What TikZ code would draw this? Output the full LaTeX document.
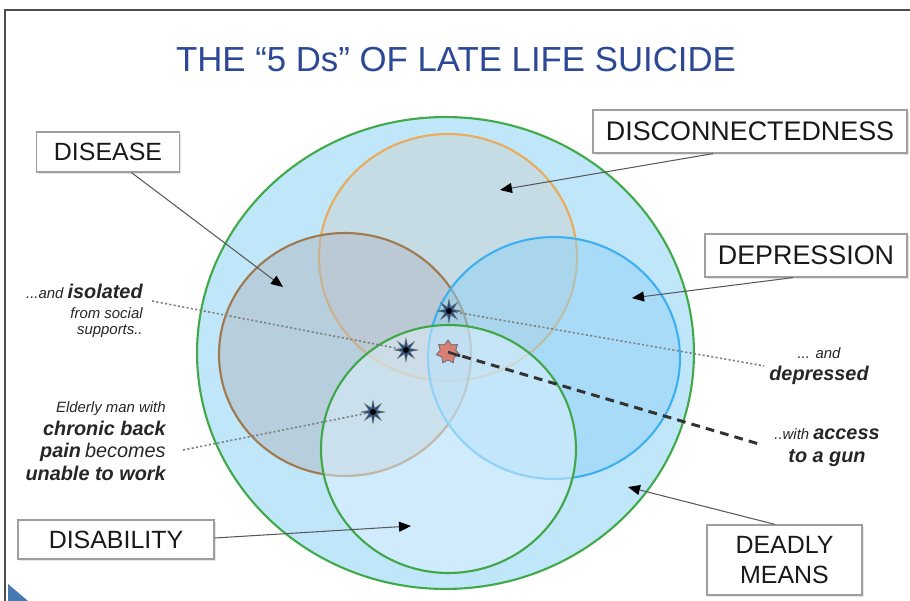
\documentclass[tikz,border=0pt]{standalone}
\usepackage{fontspec}
\setmainfont{Liberation Sans}
\usetikzlibrary{shapes.geometric, arrows.meta, calc, shadows}
\definecolor{title-blue}{RGB}{44,72,150}
\definecolor{outer-fill}{RGB}{192,230,250}
\definecolor{outer-line}{RGB}{64,170,72}
\definecolor{discon-fill}{RGB}{202,212,210}
\definecolor{discon-line}{RGB}{232,172,92}
\definecolor{disease-fill}{RGB}{176,184,194}
\definecolor{disease-line}{RGB}{160,122,78}
\definecolor{dep-fill}{RGB}{144,210,246}
\definecolor{dep-line}{RGB}{62,176,240}
\definecolor{disab-fill}{RGB}{224,242,254}
\definecolor{disab-line}{RGB}{64,166,72}
\definecolor{burst-blue}{RGB}{38,78,128}
\definecolor{gun-red}{RGB}{216,128,118}
\definecolor{corner-blue}{RGB}{70,120,180}
\newcommand{\keyword}[1]{{\fontsize{11.3}{13}\selectfont\bfseries #1}}
\newcommand{\bigword}[1]{{\fontsize{11.3}{13}\selectfont #1}}

\begin{document}
\begin{tikzpicture}[
    x=0.02cm, y=-0.02cm,
    dbox/.style={rectangle, draw=gray!75, line width=0.7pt, fill=white, inner sep=0pt, align=center, text=black!90,
        font=\fontsize{14.2}{17}\selectfont, drop shadow={opacity=0.2, shadow xshift=0.04cm, shadow yshift=-0.04cm}},
    note/.style={inner sep=0pt, text=black!85, font=\fontsize{8.5}{#1}\selectfont\itshape},
    note/.default=13,
    pointer/.style={-{Triangle[length=0.24cm, width=0.2cm, color=black]}, draw=black!65, line width=0.6pt},
    burst/.style={star, star points=8, star point ratio=2.8, minimum size=0.46cm, inner sep=0pt, fill=burst-blue, draw=black!60, line width=0.3pt},
    link/.style={draw=gray, line width=0.9pt, dash pattern=on 1.2pt off 1.3pt},
    ring/.style={line width=1.2pt, fill opacity=0.5}
]
\useasboundingbox (0,0) rectangle (910,601);

% slide frame
\draw[black!70, line width=1.2pt] (5,601) -- (5,10) -- (910,10);
\fill[corner-blue] (8,584) -- (28,601) -- (8,601) -- cycle;

\node[font=\fontsize{19.8}{24}\selectfont, text=title-blue] (title) at (456,60) {THE “5 Ds” OF LATE LIFE SUICIDE};

% the five Ds
\draw[outer-line, line width=1.2pt, fill=outer-fill] (445.5,353) ellipse [x radius=4.97cm, y radius=4.72cm];
\draw[ring, discon-line, fill=discon-fill] (448,257.5) ellipse [x radius=2.58cm, y radius=2.47cm];
\draw[ring, disease-line, fill=disease-fill] (345,354.5) ellipse [x radius=2.52cm, y radius=2.43cm];
\draw[ring, dep-line, fill=dep-fill] (554,358) ellipse [x radius=2.52cm, y radius=2.42cm];
\draw[ring, disab-line, fill=disab-fill] (448.5,449) ellipse [x radius=2.55cm, y radius=2.48cm];

% labels
\node[dbox, minimum width=2.86cm, minimum height=0.8cm] (disease) at (108,152) {DISEASE};
\node[dbox, minimum width=6.28cm, minimum height=0.86cm, font=\fontsize{15.3}{17}\selectfont] (discon) at (750,131.5) {DISCONNECTEDNESS};
\node[dbox, minimum width=4.04cm, minimum height=0.86cm, font=\fontsize{15.3}{17}\selectfont] (depression) at (806,255.5) {DEPRESSION};
\node[dbox, minimum width=3.92cm, minimum height=0.78cm] (disability) at (116,539.5) {DISABILITY};
\node[dbox, minimum width=3.1cm, minimum height=1.4cm] (means) at (784.5,560) {DEADLY\\MEANS};

\coordinate (diseaseArea) at (283,287);
\coordinate (disconArea) at (500,190);
\coordinate (depArea) at (632,298);
\coordinate (disabArea) at (411,526);
\coordinate (meansArea) at (628,487);

\draw[pointer] ([xshift=0.47cm]disease.south) -- (diseaseArea);
\draw[pointer] ([xshift=-0.74cm]discon.south) -- (disconArea);
\draw[pointer] ([xshift=-0.26cm]depression.south) -- (depArea);
\draw[pointer] ([yshift=0.03cm]disability.east) -- (disabArea);
\draw[pointer] ([xshift=-0.19cm]means.north) -- (meansArea);

% the case
\node[note=9.1, anchor=north east, align=right] (isolated) at (143,284) {...and \keyword{isolated}\\[2.2pt] from social\\ supports..};
\node[note, anchor=north east, align=right] (elderly) at (166,401) {Elderly man with\\ \keyword{chronic back}\\ \keyword{pain} \bigword{becomes}\\ \keyword{unable to work}};
\node[note=12.5, anchor=north, align=center] (depressed) at (819,347) {... and\\ \keyword{depressed}};
\node[note, anchor=north, align=center] (gun) at (827,428) {..with \keyword{access}\\ \keyword{to a gun}};

\node[burst] (s1) at (449,311) {};
\node[burst] (s2) at (406,350) {};
\node[burst] (s4) at (373,412) {};
\foreach \s in {s1,s2,s4}
    \fill[black] (\s) circle (0.06cm);

\draw[link] ($(isolated.north east)+(9,17)$) -- (s2);
\draw[link] (s1) -- ([xshift=-0.1cm]depressed.west);
\draw[link] ($(elderly.north east)+(17,49)$) -- (s4);
\draw[black!80, line width=1.7pt, dash pattern=on 5pt off 3.5pt] (448,352) -- ([xshift=-0.25cm, yshift=0.05cm]gun.west);
\node[star, star points=7, star point ratio=1.5, minimum size=0.48cm, inner sep=0pt, fill=gun-red, draw=black!60, line width=0.4pt] (s3) at (448,352) {};
\draw[black!80, line width=1.5pt] (s3.center) -- ++(12,4);

\end{tikzpicture}
\end{document}
